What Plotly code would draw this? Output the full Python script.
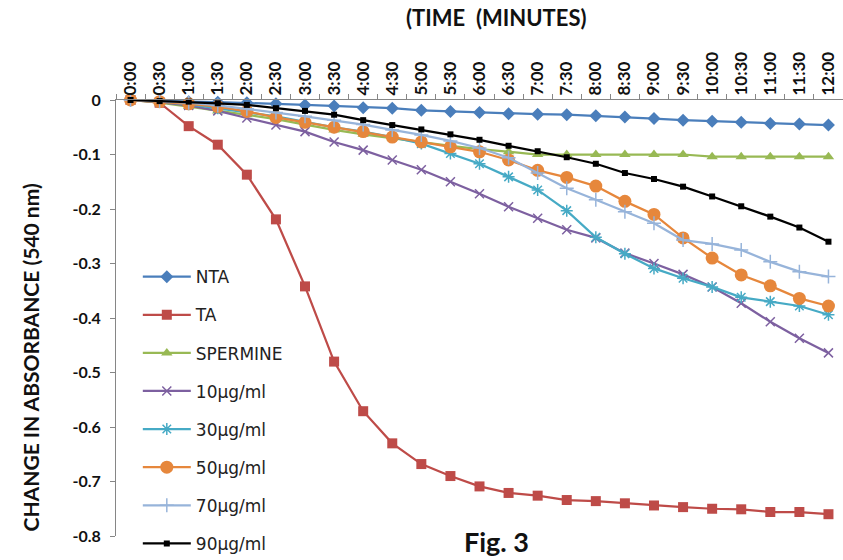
import plotly.graph_objects as go

# Sampling times (every 30 s over 12 min)
times = ["0:00", "0:30", "1:00", "1:30", "2:00", "2:30", "3:00", "3:30", "4:00",
         "4:30", "5:00", "5:30", "6:00", "6:30", "7:00", "7:30", "8:00", "8:30",
         "9:00", "9:30", "10:00", "10:30", "11:00", "11:30", "12:00"]

# Change in absorbance at 540 nm for each treatment
nta = [0, -0.002, -0.003, -0.004, -0.005, -0.007, -0.009, -0.011, -0.014, -0.015,
       -0.019, -0.021, -0.023, -0.025, -0.026, -0.027, -0.029, -0.031, -0.034,
       -0.037, -0.039, -0.041, -0.043, -0.044, -0.046]
ta = [0, -0.005, -0.048, -0.082, -0.137, -0.219, -0.342, -0.480, -0.571, -0.630,
      -0.668, -0.690, -0.709, -0.721, -0.726, -0.734, -0.736, -0.740, -0.744,
      -0.747, -0.750, -0.751, -0.756, -0.756, -0.760]
spermine = [0, -0.005, -0.012, -0.020, -0.027, -0.035, -0.045, -0.055, -0.063,
            -0.070, -0.078, -0.084, -0.090, -0.095, -0.100, -0.100, -0.100, -0.100,
            -0.100, -0.100, -0.104, -0.104, -0.104, -0.104, -0.104]
ug10 = [0, -0.004, -0.010, -0.020, -0.033, -0.046, -0.058, -0.077, -0.092, -0.110,
        -0.128, -0.150, -0.172, -0.196, -0.217, -0.238, -0.253, -0.281, -0.300,
        -0.320, -0.343, -0.373, -0.407, -0.437, -0.464]
ug30 = [0, -0.003, -0.008, -0.015, -0.022, -0.030, -0.040, -0.050, -0.058, -0.068,
        -0.080, -0.098, -0.117, -0.141, -0.165, -0.203, -0.252, -0.282, -0.309,
        -0.327, -0.343, -0.362, -0.370, -0.378, -0.394]
ug50 = [0, -0.003, -0.007, -0.012, -0.021, -0.032, -0.041, -0.050, -0.058, -0.068,
        -0.077, -0.086, -0.095, -0.110, -0.129, -0.142, -0.158, -0.186, -0.210,
        -0.253, -0.290, -0.321, -0.341, -0.364, -0.378]
ug70 = [0, -0.002, -0.005, -0.010, -0.016, -0.023, -0.030, -0.037, -0.045, -0.055,
        -0.064, -0.075, -0.088, -0.106, -0.134, -0.162, -0.183, -0.205, -0.226,
        -0.257, -0.264, -0.275, -0.297, -0.315, -0.324]
ug90 = [0, -0.002, -0.003, -0.006, -0.009, -0.015, -0.020, -0.027, -0.037, -0.046,
        -0.054, -0.063, -0.073, -0.084, -0.094, -0.105, -0.117, -0.134, -0.145,
        -0.159, -0.177, -0.195, -0.214, -0.234, -0.260]

y_ticks = [0, -0.1, -0.2, -0.3, -0.4, -0.5, -0.6, -0.7, -0.8]
y_tick_text = ["0", "-0.1", "-0.2", "-0.3", "-0.4", "-0.5", "-0.6", "-0.7", "-0.8"]

series = [
    ("NTA", nta, "#4A7EBB", "diamond", 10),
    ("TA", ta, "#BE4B48", "square", 10),
    ("SPERMINE", spermine, "#98B954", "triangle-up", 10),
    ("10µg/ml", ug10, "#7D60A0", "x-thin", 9),
    ("30µg/ml", ug30, "#46AAC5", "asterisk", 10),
    ("50µg/ml", ug50, "#E6873C", "circle", 13),
    ("70µg/ml", ug70, "#97B4DA", "cross-thin", 10),
    ("90µg/ml", ug90, "#000000", "square", 6),
]

fig = go.Figure()
for i, (name, vals, color, symbol, size) in enumerate(series):
    thin = symbol in ("x-thin", "asterisk", "cross-thin")
    fig.add_trace(go.Scatter(
        x=times, y=vals, name=name, mode="lines+markers",
        legendgroup=f"g{i}",
        line=dict(color=color, width=2.25),
        marker=dict(symbol=symbol, size=size, color=color,
                    line=dict(color=color, width=1.5 if thin else 0)),
        cliponaxis=False,
    ))

fig.update_layout(
    width=843, height=560,
    margin=dict(l=116, r=0, t=100, b=24, autoexpand=False),
    paper_bgcolor="white", plot_bgcolor="white",
    showlegend=True,
    legend=dict(
        x=0.030, y=0.635, xanchor="left", yanchor="top",
        bgcolor="rgba(0,0,0,0)",
        font=dict(family="DejaVu Sans", size=17, color="#222222"),
        tracegroupgap=13, itemwidth=48, maxheight=1,
    ),
    xaxis=dict(
        type="category", side="top", tickson="boundaries",
        ticks="outside", ticklen=5, tickcolor="#868686",
        showline=True, linecolor="#868686", linewidth=1,
        showgrid=False, tickangle=-90,
        tickfont=dict(family="Lato", size=17, color="#111111", weight="bold"),
        range=[-0.5, len(times) - 0.5],
    ),
    yaxis=dict(
        range=[-0.8, 0], tickvals=y_ticks, ticktext=y_tick_text,
        ticks="outside", ticklen=5, tickcolor="#868686",
        showline=True, linecolor="#868686", linewidth=1,
        showgrid=False, zeroline=False,
        tickfont=dict(family="Lato", size=16, color="#111111", weight="bold"),
        ticklabelstandoff=6,
    ),
    annotations=[
        dict(text="(TIME  (MINUTES)", xref="paper", yref="paper",
             x=0.524, y=1.19, xanchor="center", yanchor="middle", showarrow=False,
             font=dict(family="Lato", size=22, color="#111111", weight="bold")),
        dict(text="CHANGE IN ABSORBANCE (540 nm)", xref="paper", yref="paper",
             x=-0.118, y=0.41, xanchor="center", yanchor="middle", textangle=-90,
             showarrow=False,
             font=dict(family="Lato", size=21, color="#111111", weight="bold")),
        dict(text="Fig. 3", xref="paper", yref="paper",
             x=0.523, y=-0.012, xanchor="center", yanchor="middle", showarrow=False,
             font=dict(family="Lato", size=27, color="#111111", weight="bold")),
    ],
)

fig.write_html("out.html")
